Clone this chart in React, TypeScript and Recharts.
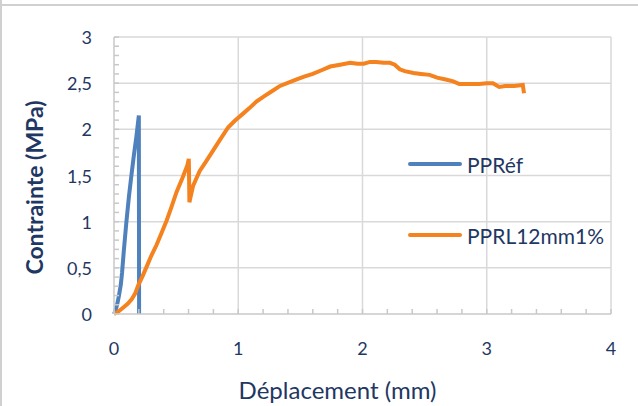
import { LineChart, Line, XAxis, YAxis, ReferenceLine, Legend, Label } from 'recharts';

const FONT = 'Lato, "Open Sans", sans-serif';
const TEXT = '#1f3763';
const GRID = '#d9d9d9';
const AXIS = '#c8c8c8';
const BLUE = '#4f81bd';
const ORANGE = '#f4821f';

// PPRéf : déplacement (mm) / contrainte (MPa)
const refX = [0, 0.01, 0.025, 0.04, 0.055, 0.065, 0.08, 0.1, 0.12, 0.14, 0.16, 0.18, 0.2, 0.201, 0.202];
const refY = [0, 0.03, 0.1, 0.2, 0.32, 0.45, 0.7, 1.0, 1.27, 1.5, 1.72, 1.92, 2.15, 1.0, 0];

// PPRL12mm1%
const fibreX = [
  0, 0.03, 0.075, 0.11, 0.142, 0.17, 0.195, 0.23, 0.262, 0.3, 0.343, 0.38, 0.423, 0.46, 0.503, 0.55, 0.59, 0.602,
  0.607, 0.615, 0.637, 0.66, 0.69, 0.74, 0.797, 0.85, 0.918, 0.97, 1.039, 1.09, 1.146, 1.21, 1.28, 1.336, 1.414,
  1.47, 1.53, 1.6, 1.67, 1.74, 1.82, 1.9, 1.96, 2.01, 2.06, 2.11, 2.17, 2.22, 2.26, 2.3, 2.34, 2.41, 2.47, 2.54,
  2.6, 2.67, 2.73, 2.78, 2.85, 2.94, 3.0, 3.05, 3.1, 3.15, 3.22, 3.29, 3.3,
];
const fibreY = [
  0, 0.02, 0.07, 0.11, 0.16, 0.22, 0.31, 0.41, 0.51, 0.63, 0.75, 0.87, 1.01, 1.15, 1.32, 1.47, 1.61, 1.68,
  1.21, 1.26, 1.39, 1.46, 1.55, 1.65, 1.77, 1.88, 2.02, 2.09, 2.17, 2.23, 2.3, 2.36, 2.42, 2.47, 2.51,
  2.54, 2.57, 2.6, 2.64, 2.68, 2.7, 2.72, 2.71, 2.71, 2.73, 2.73, 2.72, 2.72, 2.7, 2.65, 2.63, 2.61, 2.6, 2.59,
  2.56, 2.54, 2.52, 2.49, 2.49, 2.49, 2.5, 2.5, 2.46, 2.47, 2.47, 2.48, 2.39,
];

const seriesNames = ['PPRéf', 'PPRL12mm1%'];

const xMinorTicks = [0, 0.2, 0.4, 0.6, 0.8, 1, 1.2, 1.4, 1.6, 1.8, 2, 2.2, 2.4, 2.6, 2.8, 3, 3.2, 3.4, 3.6, 3.8, 4];
const xGridValues = [1, 2, 3, 4];
const xLabelValues = [0, 1, 2, 3, 4];
const xLabels = ['0', '1', '2', '3', '4'];

const yMinorTicks = [
  0, 0.1, 0.2, 0.3, 0.4, 0.5, 0.6, 0.7, 0.8, 0.9, 1, 1.1, 1.2, 1.3, 1.4, 1.5, 1.6, 1.7, 1.8, 1.9, 2,
  2.1, 2.2, 2.3, 2.4, 2.5, 2.6, 2.7, 2.8, 2.9, 3,
];
const yGridValues = [0.5, 1, 1.5, 2, 2.5, 3];
const yLabelValues = [0, 0.5, 1, 1.5, 2, 2.5, 3];
const yLabels = ['0', '0,5', '1', '1,5', '2', '2,5', '3'];

const refData = refX.map((x, i) => ({ x, y: refY[i] }));
const fibreData = fibreX.map((x, i) => ({ x, y: fibreY[i] }));

function XTick({ x, y, payload }: any) {
  const i = xLabelValues.indexOf(payload.value);
  return (
    <g>
      <line x1={x} x2={x} y1={y} y2={y - 5} stroke={AXIS} strokeWidth={1.5} />
      {i >= 0 && (
        <text x={x} y={y + 34} textAnchor="middle" dominantBaseline="central" fill={TEXT} fontSize={18} fontFamily={FONT}>
          {xLabels[i]}
        </text>
      )}
    </g>
  );
}

function YTick({ x, y, payload }: any) {
  const i = yLabelValues.indexOf(payload.value);
  return (
    <g>
      <line x1={x} x2={x + 5} y1={y} y2={y} stroke={AXIS} strokeWidth={1.5} />
      {i >= 0 && (
        <text x={x - 22} y={y} textAnchor="end" dominantBaseline="central" fill={TEXT} fontSize={18} fontFamily={FONT}>
          {yLabels[i]}
        </text>
      )}
    </g>
  );
}

function LegendBox({ payload }: any) {
  const items = [...(payload || [])].sort(
    (a: any, b: any) => seriesNames.indexOf(a.value) - seriesNames.indexOf(b.value)
  );
  return (
    <div style={{ fontFamily: FONT }}>
      {items.map((p: any) => (
        <div key={p.value} style={{ height: 71, display: 'flex', alignItems: 'center' }}>
          <div style={{ width: 54, height: 4, background: p.color, borderRadius: 2 }} />
          <span style={{ marginLeft: 5, fontSize: 21, color: TEXT, lineHeight: '21px' }}>{p.value}</span>
        </div>
      ))}
    </div>
  );
}

export default function App() {
  return (
    <div
      style={{
        position: 'absolute',
        left: 0,
        top: 0,
        width: 638,
        height: 406,
        overflow: 'hidden',
        background: '#fff',
        boxSizing: 'border-box',
        borderLeft: '2px solid #d0d0d0',
      }}
    >
      <div style={{ position: 'absolute', left: 0, top: 4, width: 638, height: 2, background: '#d0d0d0' }} />
      <div style={{ position: 'absolute', left: -2, top: 0 }}>
        <LineChart width={638} height={406} margin={{ top: 37, right: 27, left: 0, bottom: 0 }}>
          <XAxis
            type="number"
            dataKey="x"
            domain={[0, 4]}
            ticks={xMinorTicks}
            interval={0}
            tickSize={0}
            tickMargin={0}
            tick={<XTick />}
            height={92}
            stroke={AXIS}
            strokeWidth={1.5}
            allowDuplicatedCategory={false}
          >
            <Label
              content={({ viewBox }: any) => (
                <text
                  x={viewBox.x + viewBox.width / 2 - 25}
                  y={viewBox.y + 75}
                  textAnchor="middle"
                  dominantBaseline="central"
                  fill={TEXT}
                  fontSize={24}
                  fontFamily={FONT}
                >
                  Déplacement (mm)
                </text>
              )}
            />
          </XAxis>
          <YAxis
            type="number"
            dataKey="y"
            domain={[0, 3]}
            ticks={yMinorTicks}
            interval={0}
            tickSize={0}
            tickMargin={0}
            tick={<YTick />}
            width={114}
            stroke={AXIS}
            strokeWidth={1.5}
          >
            <Label
              content={({ viewBox }: any) => {
                const cx = viewBox.x + 43;
                const cy = viewBox.y + viewBox.height / 2 + 12;
                return (
                  <text
                    x={cx}
                    y={cy}
                    transform={`rotate(-90, ${cx}, ${cy})`}
                    textAnchor="middle"
                    fill={TEXT}
                    fontSize={23}
                    fontWeight="bold"
                    fontFamily={FONT}
                  >
                    Contrainte (MPa)
                  </text>
                );
              }}
            />
          </YAxis>
          {yGridValues.map((v) => (
            <ReferenceLine key={`gy${v}`} y={v} stroke={GRID} strokeWidth={1.5} />
          ))}
          {xGridValues.map((v) => (
            <ReferenceLine key={`gx${v}`} x={v} stroke={GRID} strokeWidth={1.5} />
          ))}
          <Legend
            layout="vertical"
            align="center"
            verticalAlign="middle"
            content={<LegendBox />}
            wrapperStyle={{ left: 408, top: 128.5, width: 220 }}
          />
          <Line
            data={refData}
            dataKey="y"
            name={seriesNames[0]}
            stroke={BLUE}
            strokeWidth={4}
            dot={false}
            activeDot={false}
            isAnimationActive={false}
          />
          <Line
            data={fibreData}
            dataKey="y"
            name={seriesNames[1]}
            stroke={ORANGE}
            strokeWidth={4}
            dot={false}
            activeDot={false}
            isAnimationActive={false}
          />
        </LineChart>
      </div>
    </div>
  );
}
